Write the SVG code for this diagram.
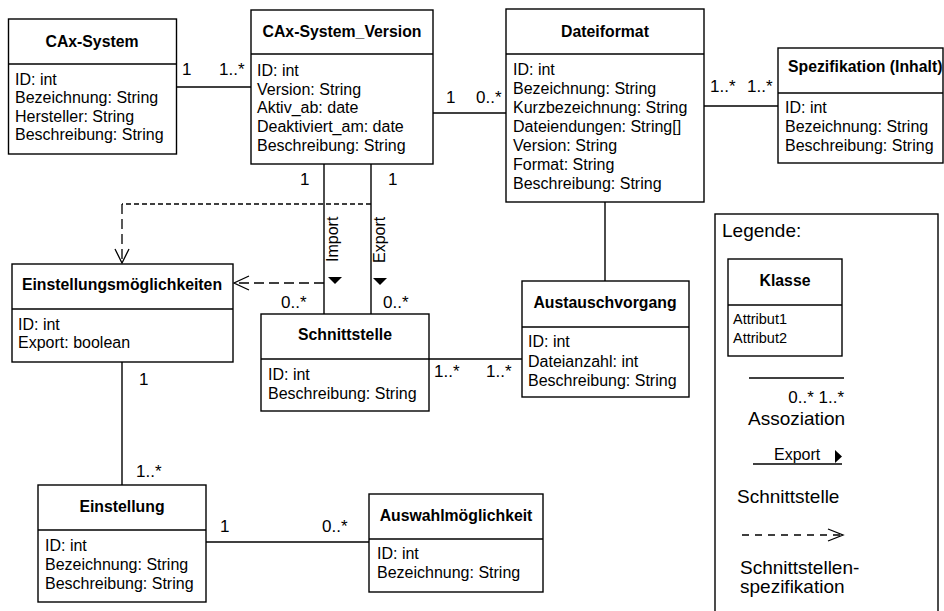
<svg xmlns="http://www.w3.org/2000/svg" width="944" height="611" viewBox="0 0 944 611">
<defs>
<style>
text{font-family:"Liberation Sans",Arial,sans-serif;fill:#000}
.box{fill:#fff;stroke:#000;stroke-width:1.4}
.ln{stroke:#000;stroke-width:1.4;fill:none}
.ds{stroke:#000;stroke-width:1.3;fill:none;stroke-dasharray:10 5}
.ds2{stroke:#000;stroke-width:1.3;fill:none;stroke-dasharray:5 3}
.ah{stroke:#000;stroke-width:1.3;fill:none}
.t{font-weight:bold;font-size:15.8px;text-anchor:middle}
.a{font-size:16px}
.s{font-size:14.5px}
.m{font-size:17px}
.lg{font-size:19px}
.tri{fill:#000}
</style>
</defs>
<rect width="944" height="611" fill="#fff"/>

<g id="connectors">
<line class="ln" x1="176" y1="87" x2="251" y2="87"/>
<text class="m" x="182" y="75">1</text>
<text class="m" x="219" y="75">1..*</text>

<line class="ln" x1="433" y1="113" x2="506" y2="113"/>
<text class="m" x="446" y="103">1</text>
<text class="m" x="476" y="103">0..*</text>

<line class="ln" x1="704" y1="106" x2="778" y2="106"/>
<text class="m" x="710" y="92">1..*</text>
<text class="m" x="747" y="92">1..*</text>

<line class="ln" x1="605" y1="202" x2="605" y2="281"/>

<line class="ln" x1="429" y1="359" x2="522" y2="359"/>
<text class="m" x="434" y="377">1..*</text>
<text class="m" x="486" y="377">1..*</text>

<line class="ln" x1="324" y1="164" x2="324" y2="314"/>
<line class="ln" x1="371" y1="164" x2="371" y2="314"/>
<text class="m" x="300" y="185">1</text>
<text class="m" x="388" y="185">1</text>
<text class="a" transform="translate(338,262) rotate(-90)">Import</text>
<text class="a" transform="translate(385,263) rotate(-90)">Export</text>
<polygon class="tri" points="328,277 342,277 335,284"/>
<polygon class="tri" points="373,278 387,278 380,285"/>
<text class="m" x="281" y="308">0..*</text>
<text class="m" x="383" y="308">0..*</text>

<polyline class="ds2" points="371,204 122,204"/>
<line class="ds" x1="122" y1="204" x2="122" y2="262"/>
<polyline class="ah" points="115,249 122,263 129,249"/>
<line class="ds" x1="324" y1="283" x2="236" y2="283"/>
<polyline class="ah" points="249,276 234,283 249,290"/>

<line class="ln" x1="122" y1="362" x2="122" y2="485"/>
<text class="m" x="139" y="385">1</text>
<text class="m" x="136" y="477">1..*</text>

<line class="ln" x1="206" y1="542" x2="369" y2="542"/>
<text class="m" x="220" y="532">1</text>
<text class="m" x="322" y="532">0..*</text>
</g>

<g id="cax-system">
<rect class="box" x="8.5" y="19" width="168" height="135"/>
<line class="ln" x1="8.5" y1="64" x2="176.5" y2="64"/>
<text class="t" x="92" y="47">CAx-System</text>
<text class="a" x="15" y="85">ID: int</text>
<text class="a" x="15" y="103">Bezeichnung: String</text>
<text class="a" x="15" y="122">Hersteller: String</text>
<text class="a" x="15" y="140">Beschreibung: String</text>
</g>

<g id="cax-system-version">
<rect class="box" x="251" y="10" width="182" height="154"/>
<line class="ln" x1="251" y1="54" x2="433" y2="54"/>
<text class="t" x="342" y="37">CAx-System_Version</text>
<text class="a" x="257" y="76">ID: int</text>
<text class="a" x="257" y="95">Version: String</text>
<text class="a" x="257" y="113">Aktiv_ab: date</text>
<text class="a" x="257" y="132">Deaktiviert_am: date</text>
<text class="a" x="257" y="151">Beschreibung: String</text>
</g>

<g id="dateiformat">
<rect class="box" x="506" y="9" width="198" height="193"/>
<line class="ln" x1="506" y1="54" x2="704" y2="54"/>
<text class="t" x="605" y="37">Dateiformat</text>
<text class="a" x="513" y="75">ID: int</text>
<text class="a" x="513" y="94">Bezeichnung: String</text>
<text class="a" x="513" y="113">Kurzbezeichnung: String</text>
<text class="a" x="513" y="132">Dateiendungen: String[]</text>
<text class="a" x="513" y="151">Version: String</text>
<text class="a" x="513" y="170">Format: String</text>
<text class="a" x="513" y="189">Beschreibung: String</text>
</g>

<g id="spezifikation">
<rect class="box" x="778" y="48" width="165" height="115"/>
<line class="ln" x1="778" y1="93" x2="943" y2="93"/>
<text class="t" x="788" y="72" style="text-anchor:start">Spezifikation (Inhalt)</text>
<text class="a" x="785" y="113">ID: int</text>
<text class="a" x="785" y="132">Bezeichnung: String</text>
<text class="a" x="785" y="151">Beschreibung: String</text>
</g>

<g id="einstellungsmoeglichkeiten">
<rect class="box" x="12" y="264" width="221" height="98"/>
<line class="ln" x1="12" y1="309" x2="233" y2="309"/>
<text class="t" x="122" y="290">Einstellungsmöglichkeiten</text>
<text class="a" x="18" y="330">ID: int</text>
<text class="a" x="18" y="348">Export: boolean</text>
</g>

<g id="schnittstelle">
<rect class="box" x="261" y="314" width="168" height="97"/>
<line class="ln" x1="261" y1="359" x2="429" y2="359"/>
<text class="t" x="345" y="340">Schnittstelle</text>
<text class="a" x="268" y="380">ID: int</text>
<text class="a" x="268" y="399">Beschreibung: String</text>
</g>

<g id="austauschvorgang">
<rect class="box" x="522" y="281" width="167" height="116"/>
<line class="ln" x1="522" y1="327" x2="689" y2="327"/>
<text class="t" x="605" y="308">Austauschvorgang</text>
<text class="a" x="528" y="347">ID: int</text>
<text class="a" x="528" y="367">Dateianzahl: int</text>
<text class="a" x="528" y="386">Beschreibung: String</text>
</g>

<g id="einstellung">
<rect class="box" x="38" y="485" width="168" height="117"/>
<line class="ln" x1="38" y1="530" x2="206" y2="530"/>
<text class="t" x="122" y="512">Einstellung</text>
<text class="a" x="45" y="551">ID: int</text>
<text class="a" x="45" y="570">Bezeichnung: String</text>
<text class="a" x="45" y="589">Beschreibung: String</text>
</g>

<g id="auswahlmoeglichkeit">
<rect class="box" x="369" y="494" width="174" height="98"/>
<line class="ln" x1="369" y1="539" x2="543" y2="539"/>
<text class="t" x="456" y="521">Auswahlmöglichkeit</text>
<text class="a" x="377" y="559">ID: int</text>
<text class="a" x="377" y="578">Bezeichnung: String</text>
</g>

<g id="legende">
<rect class="box" x="715" y="214" width="223" height="410"/>
<text class="lg" x="722" y="237">Legende:</text>
<rect class="box" x="728" y="259" width="114" height="97"/>
<line class="ln" x1="728" y1="305" x2="842" y2="305"/>
<text class="t" x="785" y="286">Klasse</text>
<text class="s" x="733" y="324">Attribut1</text>
<text class="s" x="733" y="343">Attribut2</text>
<line class="ln" x1="749" y1="378" x2="844" y2="378"/>
<text class="m" x="844" y="403" style="text-anchor:end">0..* 1..*</text>
<text class="lg" x="748" y="425">Assoziation</text>
<text class="a" x="774" y="460">Export</text>
<polygon class="tri" points="835,450 835,463 842,456.5"/>
<line class="ln" x1="753" y1="464" x2="842" y2="464"/>
<text class="lg" x="737" y="503">Schnittstelle</text>
<line class="ah" x1="742" y1="535" x2="841" y2="535" style="stroke-dasharray:7 6"/>
<polyline class="ah" points="828,529 843,535 828,541"/>
<text class="lg" x="740" y="574">Schnittstellen-</text>
<text class="lg" x="740" y="593">spezifikation</text>
</g>
</svg>
